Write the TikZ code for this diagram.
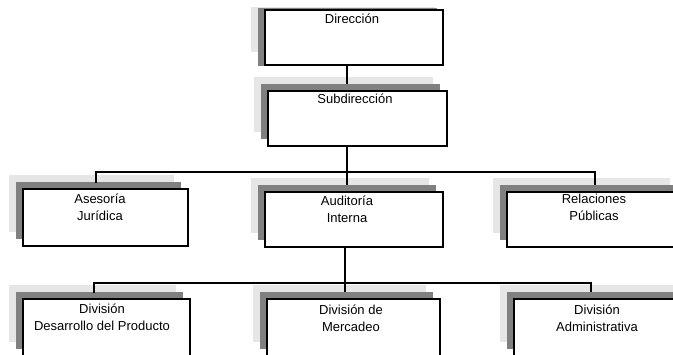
\documentclass[tikz,border=0pt]{standalone}
\usepackage{fontspec}
\setmainfont{Liberation Sans}
\usetikzlibrary{shadows,calc}
\definecolor{shadelight}{HTML}{E6E6E6}
\definecolor{shadedark}{HTML}{808080}
\begin{document}
\begin{tikzpicture}[x=1pt,y=-1pt,
  every node/.style={inner sep=0pt,outer sep=0pt},
  unit/.style={draw=black,line width=1.2pt,fill=white,anchor=north west,
    minimum width=#1,minimum height=55pt},
  unit/.default=178pt,
  tallunit/.style={unit=#1,minimum height=57pt},
  twoshade/.style={
    general shadow={fill=shadelight,shadow xshift=-14.5pt,shadow yshift=14pt},
    general shadow={fill=shadedark,shadow xshift=-7pt,shadow yshift=7pt}},
  lbl/.style={anchor=base,font=\fontsize{13}{17}\selectfont},
  wire/.style={draw=black,line width=1.3pt}]
\clip (0,0) rectangle (673,354);
\useasboundingbox (0,0) rectangle (673,354);

% top unit with its two backing plates
\fill[shadelight] (251,7) rectangle (435,52);
\fill[shadedark] (258,8) rectangle (437,66);
\node[unit] (dir) at (265,10) {};
\node[lbl] (dirT) at (352,23) {Dirección};

% second level
\node[unit=179pt,twoshade] (sub) at (268,91) {};
\node[lbl] (subT) at (355,103) {Subdirección};

% third level
\node[unit=165pt,minimum height=57pt,twoshade] (ase) at (23,189) {};
\node[lbl] (aseT1) at (100,203) {Asesoría};
\node[lbl] (aseT2) at (100,220) {Jurídica};

\node[unit=178pt,twoshade] (aud) at (265,192) {};
\node[lbl] (audT1) at (347,205) {Auditoría};
\node[lbl] (audT2) at (347,222) {Interna};

\node[unit=177pt,twoshade] (rel) at (507,192) {};
\node[lbl] (relT1) at (594,203) {Relaciones};
\node[lbl] (relT2) at (594,220) {Públicas};

% fourth level
\node[tallunit=167pt,twoshade] (des) at (23,299) {};
\node[lbl] (desT1) at (102,313) {División};
\node[lbl] (desT2) at (102,330) {Desarrollo del Producto};

\node[tallunit=173pt,twoshade] (mer) at (267,299) {};
\node[lbl] (merT1) at (351,314) {División de};
\node[lbl] (merT2) at (351,331) {Mercadeo};

\node[tallunit=176pt,twoshade] (adm) at (514,299) {};
\node[lbl] (admT1) at (597,314) {División};
\node[lbl] (admT2) at (597,331) {Administrativa};

% guide lines for the connectors
\coordinate (spineA) at (347,0);
\coordinate (spineB) at (345,0);
\coordinate (legA1) at (96,0);
\coordinate (legA3) at (595,0);
\coordinate (legB1) at (94,0);
\coordinate (legB3) at (591,0);
\coordinate (busA) at (0,172);
\coordinate (busB) at (0,283);

% connectors
\draw[wire] (dir.south -| spineA) -- ($(sub.north -| spineA)+(0,-7)$);
\draw[wire] (sub.south -| spineA) -- ($(aud.north -| spineA)+(0,-7)$);
\draw[wire] ($(ase.north -| legA1)+(0,-6)$) -- (busA -| legA1)
  -- (busA -| legA3) -- ($(rel.north -| legA3)+(0,-7)$);
\draw[wire] (aud.south -| spineB) -- ($(mer.north -| spineB)+(0,-7)$);
\draw[wire] ($(des.north -| legB1)+(0,-6)$) -- (busB -| legB1)
  -- (busB -| legB3) -- ($(adm.north -| legB3)+(0,-7)$);
\end{tikzpicture}
\end{document}
